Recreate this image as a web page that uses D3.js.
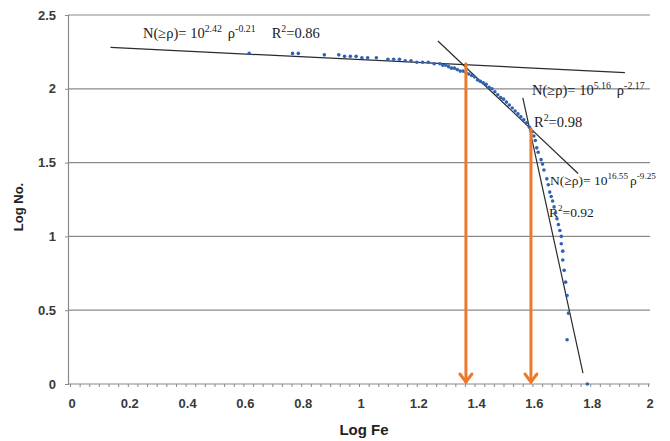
<!DOCTYPE html>
<html><head><meta charset="utf-8">
<script src="https://cdn.jsdelivr.net/npm/d3@7"></script>
<style>body{margin:0;background:#fff;}svg{display:block;}</style>
</head><body>
<svg id="c" width="670" height="441"></svg>
<script>
// ---- data ----
const xTicks = [0,0.2,0.4,0.6,0.8,1,1.2,1.4,1.6,1.8,2];
const xTickLabels = ["0","0.2","0.4","0.6","0.8","1","1.2","1.4","1.6","1.8","2"];
const yTicks = [0,0.5,1,1.5,2,2.5];
const yTickLabels = ["0","0.5","1","1.5","2","2.5"];
const logFe = [0.62,0.77,0.79,0.88,0.93,0.95,0.97,0.99,1.01,1.03,1.06,1.10,1.12,1.14,1.16,1.18,1.20,1.22,1.24,1.26,1.28,1.29,1.30,1.31,1.32,1.33,1.34,1.35,1.36,1.37,1.38,1.39,1.40,1.41,1.42,1.43,1.44,1.45,1.46,1.47,1.48,1.49,1.50,1.51,1.52,1.53,1.54,1.55,1.56,1.57,1.58,1.59,1.60,1.605,1.61,1.615,1.62,1.63,1.635,1.64,1.65,1.655,1.66,1.665,1.67,1.675,1.68,1.685,1.69,1.695,1.70,1.70,1.705,1.705,1.71,1.715,1.72,1.725,1.72,1.79];
const logNo = [2.24,2.24,2.24,2.23,2.23,2.22,2.22,2.22,2.21,2.21,2.21,2.20,2.20,2.20,2.19,2.19,2.18,2.18,2.18,2.17,2.17,2.16,2.16,2.15,2.14,2.14,2.13,2.12,2.12,2.11,2.10,2.09,2.08,2.06,2.05,2.04,2.03,2.01,2.00,1.98,1.96,1.94,1.93,1.91,1.89,1.87,1.85,1.83,1.81,1.79,1.77,1.74,1.71,1.68,1.65,1.60,1.57,1.52,1.49,1.45,1.39,1.35,1.30,1.27,1.24,1.20,1.16,1.12,1.08,1.04,1.00,0.95,0.90,0.84,0.77,0.69,0.60,0.48,0.30,0.0];
// fitted power-law lines (start / end in data units)
const fitStart = [[0.14,2.28],[1.273,2.324],[1.567,1.939]];
const fitEnd   = [[1.92,2.11],[1.758,1.426],[1.775,0.074]];
// threshold arrows
const thresholdX = [1.37,1.595];
const thresholdTop = [2.17,1.73];

// ---- chart ----
const svg = d3.select("#c");
const x = d3.scaleLinear().domain([0,2]).range([70,648]);
const y = d3.scaleLinear().domain([0,2.5]).range([384,15]);
const gridColor = "#8a8a8a";

// gridlines
svg.append("g").selectAll("line").data(yTicks.filter(d=>d>0)).join("line")
  .attr("x1",68).attr("x2",650).attr("y1",d=>y(d)).attr("y2",d=>y(d))
  .attr("stroke",gridColor).attr("stroke-width",1.2);

// y axis
const yAxis = d3.axisLeft(y).tickValues(yTicks).tickFormat((d,i)=>yTickLabels[i]).tickSize(3).tickPadding(9);
const gy = svg.append("g").attr("transform","translate(68,0)").call(yAxis);
gy.select(".domain").attr("stroke",gridColor).attr("stroke-width",1.2);
gy.selectAll(".tick line").attr("stroke",gridColor);
gy.selectAll("text").attr("font-family","Liberation Sans, Arial, sans-serif").attr("font-size",13).attr("font-weight","bold").attr("fill","#3a3a3a");

// x axis
const xAxis = d3.axisBottom(x).tickValues(d3.range(0,2.0001,0.2/6)).tickFormat(()=>"").tickSize(3).tickSizeOuter(0);
const gx = svg.append("g").attr("transform","translate(0,384)").call(xAxis);
gx.select(".domain").attr("stroke",gridColor).attr("stroke-width",1.2).attr("d","M68,0H650");
gx.selectAll(".tick line").attr("stroke",gridColor);
svg.append("g").selectAll("text").data(xTicks).join("text")
  .attr("x",d=>x(d)+2).attr("y",408).attr("text-anchor","middle")
  .attr("font-family","Liberation Sans, Arial, sans-serif").attr("font-size",13).attr("font-weight","bold").attr("fill","#3a3a3a")
  .text((d,i)=>xTickLabels[i]);

// axis titles
svg.append("text").attr("x",364).attr("y",435).attr("text-anchor","middle")
  .attr("font-family","Liberation Sans, Arial, sans-serif").attr("font-size",15).attr("font-weight","bold").attr("fill","#222").text("Log Fe");
svg.append("text").attr("transform","translate(23,207) rotate(-90)").attr("text-anchor","middle")
  .attr("font-family","Liberation Sans, Arial, sans-serif").attr("font-size",13).attr("font-weight","bold").attr("fill","#222").text("Log No.");

// annotation helper
function eq(xp, yp, size, parts){
  const t = svg.append("text").attr("x",xp).attr("y",yp)
    .attr("font-family","Liberation Serif, Times New Roman, serif").attr("font-size",size).attr("fill","#1a1a1a");
  let raised = false;
  parts.forEach(p=>{
    const s = t.append("tspan").text(p.t);
    if(p.dx) s.attr("dx",p.dx);
    if(p.sup && !raised){ s.attr("dy",-size*0.42).attr("font-size",size*0.68); raised=true; }
    else if(p.sup){ s.attr("font-size",size*0.68); }
    else if(!p.sup && raised){ s.attr("dy",size*0.42); raised=false; }
  });
}
eq(143,38,14.5,[{t:"N(≥ρ)= 10"},{t:"2.42",sup:true},{t:"ρ",dx:6},{t:"-0.21",sup:true},{t:"R",dx:16},{t:"2",sup:true},{t:"=0.86"}]);
eq(532,95,14.5,[{t:"N(≥ρ)= 10"},{t:"5.16",sup:true},{t:"ρ",dx:6},{t:"-2.17",sup:true}]);
eq(534,127,14.5,[{t:"R"},{t:"2",sup:true},{t:"=0.98"}]);
eq(550,185,13.5,[{t:"N(≥ρ)= 10"},{t:"16.55",sup:true},{t:"ρ",dx:2},{t:"-9.25",sup:true}]);
eq(549,217,13.5,[{t:"R"},{t:"2",sup:true},{t:"=0.92"}]);

// fit lines
svg.append("g").selectAll("line").data(fitStart).join("line")
  .attr("x1",d=>x(d[0])).attr("y1",d=>y(d[1]))
  .attr("x2",(d,i)=>x(fitEnd[i][0])).attr("y2",(d,i)=>y(fitEnd[i][1]))
  .attr("stroke","#2b2b2b").attr("stroke-width",1.2);

// data points
svg.append("g").selectAll("circle").data(logFe).join("circle")
  .attr("cx",d=>x(d)).attr("cy",(d,i)=>y(logNo[i])).attr("r",1.8)
  .attr("fill","#2f62b5");

// orange arrows
const ag = svg.append("g").attr("stroke","#ec7a2c").attr("stroke-width",3).attr("fill","none").attr("stroke-linecap","round");
ag.selectAll("line").data(thresholdX).join("line")
  .attr("x1",d=>x(d)).attr("x2",d=>x(d))
  .attr("y1",(d,i)=>y(thresholdTop[i])).attr("y2",y(0)-2);
ag.selectAll("path").data(thresholdX).join("path")
  .attr("d",d=>`M${x(d)-6},${y(0)-10}L${x(d)},${y(0)-2}L${x(d)+6},${y(0)-10}`)
  .attr("stroke-linejoin","miter");
</script>
</body></html>
